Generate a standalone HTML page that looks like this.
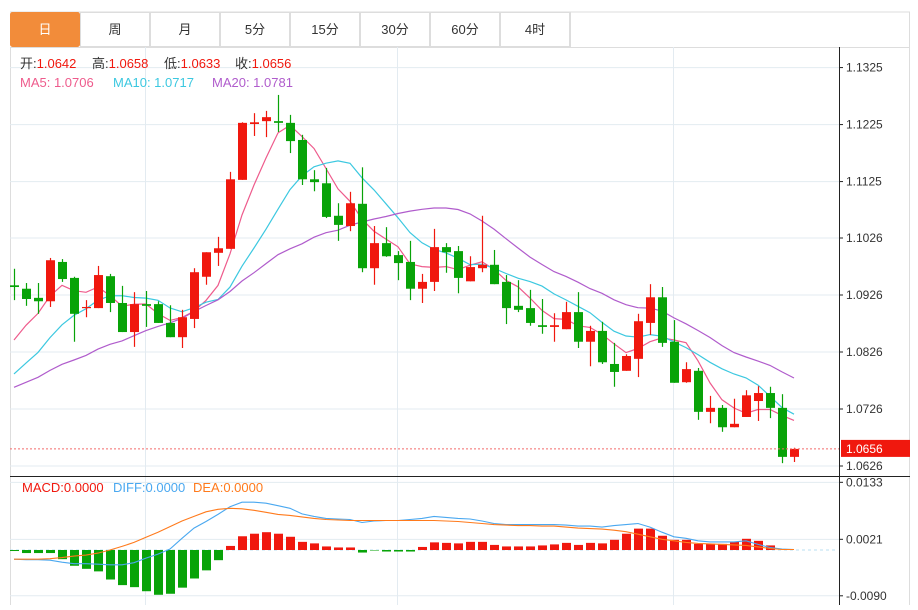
<!DOCTYPE html>
<html><head><meta charset="utf-8">
<style>
html,body{margin:0;padding:0;background:#fff;}
body{width:918px;height:605px;overflow:hidden;font-family:"Liberation Sans","Noto Sans CJK SC",sans-serif;}
svg text{font-family:"Liberation Sans","Noto Sans CJK SC",sans-serif;}
</style></head>
<body>
<svg id="chart" width="918" height="605" xmlns="http://www.w3.org/2000/svg">
  <g id="tabs"></g>
  <g id="grid"></g>
  <g id="ma"></g>
  <g id="candles"></g>
  <g id="macd"></g>
  <g id="axis"></g>
  <g id="info" font-size="13">
    <text x="20" y="68" fill="#333">开:<tspan fill="#f0180e">1.0642</tspan></text>
    <text x="92" y="68" fill="#333">高:<tspan fill="#f0180e">1.0658</tspan></text>
    <text x="164" y="68" fill="#333">低:<tspan fill="#f0180e">1.0633</tspan></text>
    <text x="235" y="68" fill="#333">收:<tspan fill="#f0180e">1.0656</tspan></text>
    <text x="20" y="87" fill="#ee5b8c">MA5: 1.0706</text>
    <text x="113" y="87" fill="#3cc8e0">MA10: 1.0717</text>
    <text x="212" y="87" fill="#b05ccc">MA20: 1.0781</text>
    <text x="22" y="492" fill="#f0180e">MACD:0.0000</text>
    <text x="113" y="492" fill="#4aa8f0">DIFF:0.0000</text>
    <text x="193" y="492" fill="#ff7a1c">DEA:0.0000</text>
  </g>
</svg>
<script>
const opens  = [1.0943,1.0937,1.0921,1.0915,1.0984,1.0956,1.0903,1.0903,1.0959,1.0912,1.0861,1.0910,1.0910,1.0877,1.0852,1.0884,1.0958,1.1000,1.1007,1.1128,1.1226,1.1231,1.1231,1.1228,1.1198,1.1129,1.1122,1.1065,1.1047,1.1086,1.0973,1.1017,1.0996,1.0984,1.0937,1.0949,1.1010,1.1003,1.0950,1.0973,1.0979,1.0949,1.0907,1.0903,1.0873,1.0870,1.0866,1.0896,1.0844,1.0863,1.0805,1.0793,1.0814,1.0877,1.0922,1.0844,1.0773,1.0793,1.0721,1.0728,1.0694,1.0712,1.0740,1.0754,1.0728,1.0642];
const highs  = [1.0972,1.0947,1.0947,1.0991,1.0989,1.0958,1.0917,1.0977,1.0963,1.0942,1.0931,1.0933,1.0915,1.0908,1.0900,1.0973,1.1001,1.1028,1.1142,1.1229,1.1245,1.1249,1.1277,1.1242,1.1207,1.1145,1.1149,1.1087,1.1107,1.1150,1.1047,1.1045,1.1003,1.1021,1.0963,1.1042,1.1017,1.1012,1.0994,1.1065,1.1005,1.0961,1.0952,1.0935,1.0919,1.0894,1.0914,1.0931,1.0872,1.0879,1.0842,1.0822,1.0893,1.0945,1.0940,1.0882,1.0808,1.0798,1.0749,1.0733,1.0744,1.0759,1.0766,1.0765,1.0752,1.0658];
const lows   = [1.0917,1.0907,1.0893,1.0905,1.0949,1.0844,1.0887,1.0903,1.0896,1.0861,1.0835,1.0870,1.0877,1.0852,1.0833,1.0868,1.0944,1.0977,1.1007,1.1128,1.1205,1.1203,1.1212,1.1175,1.1119,1.1108,1.1061,1.1021,1.1038,1.0966,1.0944,1.0993,1.0952,1.0917,1.0912,1.0933,1.0965,1.0929,1.0950,1.0966,1.0945,1.0875,1.0896,1.0872,1.0858,1.0844,1.0866,1.0833,1.0801,1.0805,1.0765,1.0793,1.0782,1.0856,1.0835,1.0772,1.0772,1.0707,1.0701,1.0686,1.0694,1.0712,1.0705,1.0710,1.0631,1.0633];
const closes = [1.0940,1.0919,1.0915,1.0987,1.0954,1.0893,1.0905,1.0961,1.0912,1.0861,1.0910,1.0907,1.0877,1.0852,1.0887,1.0966,1.1001,1.1008,1.1129,1.1228,1.1229,1.1238,1.1228,1.1196,1.1129,1.1124,1.1063,1.1049,1.1087,1.0973,1.1017,1.0994,1.0982,1.0937,1.0949,1.1010,1.1001,1.0956,1.0975,1.0979,1.0945,1.0903,1.0900,1.0877,1.0870,1.0873,1.0896,1.0844,1.0863,1.0808,1.0791,1.0819,1.0880,1.0922,1.0842,1.0772,1.0796,1.0721,1.0728,1.0694,1.0700,1.0750,1.0754,1.0728,1.0642,1.0656];
const priorCloses = [1.0742,1.0742,1.0742,1.0742,1.0742,1.0742,1.0742,1.0742,1.0742,1.0742,1.0728,1.0728,1.0728,1.0728,1.0728,1.0728,1.0790,1.0810,1.0835,1.0860];
const macdHist = [-0.0002,-0.0006,-0.0006,-0.0006,-0.0018,-0.0031,-0.0037,-0.0042,-0.0058,-0.0069,-0.0073,-0.0081,-0.0088,-0.0086,-0.0074,-0.0056,-0.0040,-0.0020,0.0008,0.0027,0.0032,0.0035,0.0032,0.0026,0.0016,0.0013,0.0007,0.0005,0.0005,-0.0005,-0.0001,-0.0003,-0.0003,-0.0003,0.0006,0.0015,0.0014,0.0013,0.0016,0.0016,0.0010,0.0007,0.0007,0.0007,0.0009,0.0011,0.0014,0.0010,0.0014,0.0013,0.0020,0.0032,0.0042,0.0042,0.0028,0.0020,0.0020,0.0012,0.0012,0.0012,0.0016,0.0022,0.0018,0.0009,0,0];
const diffLine = [-0.0018,-0.0019,-0.0019,-0.0020,-0.0024,-0.0027,-0.0027,-0.0028,-0.0029,-0.0029,-0.0025,-0.0016,-0.0008,0.0002,0.0023,0.0043,0.0056,0.0070,0.0085,0.0094,0.0094,0.0092,0.0087,0.0082,0.0071,0.0066,0.0062,0.0061,0.0060,0.0054,0.0057,0.0058,0.0058,0.0060,0.0062,0.0066,0.0064,0.0062,0.0061,0.0057,0.0052,0.0050,0.0050,0.0050,0.0050,0.0050,0.0049,0.0047,0.0047,0.0045,0.0048,0.0050,0.0052,0.0045,0.0035,0.0026,0.0023,0.0018,0.0016,0.0016,0.0016,0.0018,0.0011,0.0005,0.0002,0.0001];
const deaLine = [-0.0018,-0.0018,-0.0018,-0.0017,-0.0015,-0.0012,-0.0010,-0.0006,0.0000,0.0007,0.0015,0.0025,0.0035,0.0046,0.0057,0.0066,0.0075,0.0080,0.0082,0.0081,0.0078,0.0074,0.0070,0.0068,0.0065,0.0062,0.0060,0.0059,0.0058,0.0058,0.0058,0.0058,0.0058,0.0058,0.0058,0.0058,0.0057,0.0056,0.0054,0.0052,0.0050,0.0049,0.0048,0.0048,0.0047,0.0047,0.0045,0.0043,0.0042,0.0041,0.0039,0.0036,0.0031,0.0026,0.0021,0.0018,0.0015,0.0013,0.0012,0.0011,0.0010,0.0009,0.0006,0.0003,0.0001,0.0001];
const priceTicks = [1.1325,1.1225,1.1125,1.1026,1.0926,1.0826,1.0726,1.0626];
const macdTicks = [0.0133,0.0021,-0.0090];
const tabLabels = ["日","周","月","5分","15分","30分","60分","4时"];
const lastPrice = 1.0656;

const NS = "http://www.w3.org/2000/svg";
const RED="#f0180e", GREEN="#08a308";
function mk(parent, tag, attrs){ const e=document.createElementNS(NS,tag); for(const k in attrs) e.setAttribute(k,attrs[k]); parent.appendChild(e); return e; }
const xOf = i => 14 + 12*i;
const yP = p => 466 - (p - 1.0626)*5700;
const yM = v => 550 - v*5089;

const tabs = document.getElementById('tabs');
mk(tabs,'line',{x1:10,y1:12,x2:910,y2:12,stroke:'#ddd'});
tabLabels.forEach((t,i)=>{
  const x0 = 10+70*i;
  const r = mk(tabs,'rect',{x:x0+0.5,y:12.5,width:69,height:34,fill:i===0?'#f28c3a':'#fff',stroke:i===0?'#f28c3a':'#ddd',rx:i===0?2:0});
  
  
  const tx = mk(tabs,'text',{x:x0+35,y:34,'font-size':13,'text-anchor':'middle',fill:i===0?'#fff':'#333'});
  tx.textContent = t;
  
  
});
mk(tabs,'line',{x1:570.5,y1:12,x2:570.5,y2:47,stroke:'#ddd'});
mk(tabs,'line',{x1:909.5,y1:12,x2:909.5,y2:47,stroke:'#ddd'});

const grid = document.getElementById('grid');
mk(grid,'rect',{x:10.5,y:47.5,width:899,height:560,fill:'none',stroke:'#ddd'});
priceTicks.forEach(p=>{ mk(grid,'line',{x1:10,y1:yP(p),x2:839,y2:yP(p),stroke:'#e3ebf1'}); });
macdTicks.forEach(v=>{ mk(grid,'line',{x1:10,y1:yM(v),x2:839,y2:yM(v),stroke:'#e3ebf1'}); });
[145.5,397.5,673.5].forEach(x=>{ mk(grid,'line',{x1:x,y1:47,x2:x,y2:605,stroke:'#e3ebf1'}); });
mk(grid,'line',{x1:10,y1:476.5,x2:910,y2:476.5,stroke:'#222'});

const all = priorCloses.concat(closes);
function ma(n){ return closes.map((c,i)=>{ const j=i+priorCloses.length; let s=0; for(let k=j-n+1;k<=j;k++) s+=all[k]; return s/n; }); }
const maG = document.getElementById('ma');
[[5,'#ee5b8c'],[10,'#3cc8e0'],[20,'#b05ccc']].forEach(([n,c])=>{
  const v = ma(n);
  const pl = mk(maG,'polyline',{points:v.map((p,i)=>xOf(i)+','+yP(p).toFixed(1)).join(' '),fill:'none',stroke:c,'stroke-width':1.2});
  
  
});

const cg = document.getElementById('candles');
closes.forEach((c,i)=>{
  const o=opens[i], up=c>=o, col=up?RED:GREEN, x=xOf(i);
  const w = mk(cg,'line',{x1:x+0.5,x2:x+0.5,y1:yP(highs[i]),y2:yP(lows[i]),stroke:col,'stroke-width':1.2});
  
  
  const top=yP(Math.max(o,c)), bot=yP(Math.min(o,c));
  const b = mk(cg,'rect',{x:x-4,y:top,width:9,height:Math.max(1.2,bot-top),fill:col});
  
  
});
const ll = mk(cg,'line',{x1:10,x2:839,y1:yP(lastPrice),y2:yP(lastPrice),stroke:'#f36b6b','stroke-dasharray':'2,2'});



const mg = document.getElementById('macd');
const zl = mk(mg,'line',{x1:10,x2:837,y1:yM(0),y2:yM(0),stroke:'#b9dff0','stroke-dasharray':'3,3'});


macdHist.forEach((v,i)=>{
  if(v===0) return;
  const y0=yM(0), y1=yM(v);
  const r = mk(mg,'rect',{x:xOf(i)-4,y:Math.min(y0,y1),width:9,height:Math.abs(y1-y0),fill:v>0?RED:GREEN});
  
  
});
const dl = mk(mg,'polyline',{points:diffLine.map((v,i)=>xOf(i)+','+yM(v).toFixed(1)).join(' '),fill:'none',stroke:'#4aa8f0','stroke-width':1.1});


const el2 = mk(mg,'polyline',{points:deaLine.map((v,i)=>xOf(i)+','+yM(v).toFixed(1)).join(' '),fill:'none',stroke:'#ff7a1c','stroke-width':1.1});



const ax = document.getElementById('axis');
mk(ax,'line',{x1:839.5,x2:839.5,y1:47,y2:605,stroke:'#222'});
priceTicks.forEach(p=>{
  mk(ax,'line',{x1:839,x2:843,y1:yP(p),y2:yP(p),stroke:'#222'});
  const t = mk(ax,'text',{x:846,y:yP(p)+4,'font-size':12,fill:'#333'});
  t.textContent = p.toFixed(4);
  
  
});
macdTicks.forEach(v=>{
  mk(ax,'line',{x1:839,x2:843,y1:yM(v),y2:yM(v),stroke:'#222'});
  const t = mk(ax,'text',{x:846,y:yM(v)+4,'font-size':12,fill:'#333'});
  t.textContent = v.toFixed(4);
  
  
});
const lb = mk(ax,'rect',{x:841,y:yP(lastPrice)-9,width:69,height:17,fill:RED});


const lt = mk(ax,'text',{x:846,y:yP(lastPrice)+4,'font-size':12,fill:'#fff'});
lt.textContent = lastPrice.toFixed(4);


</script>
</body></html>
